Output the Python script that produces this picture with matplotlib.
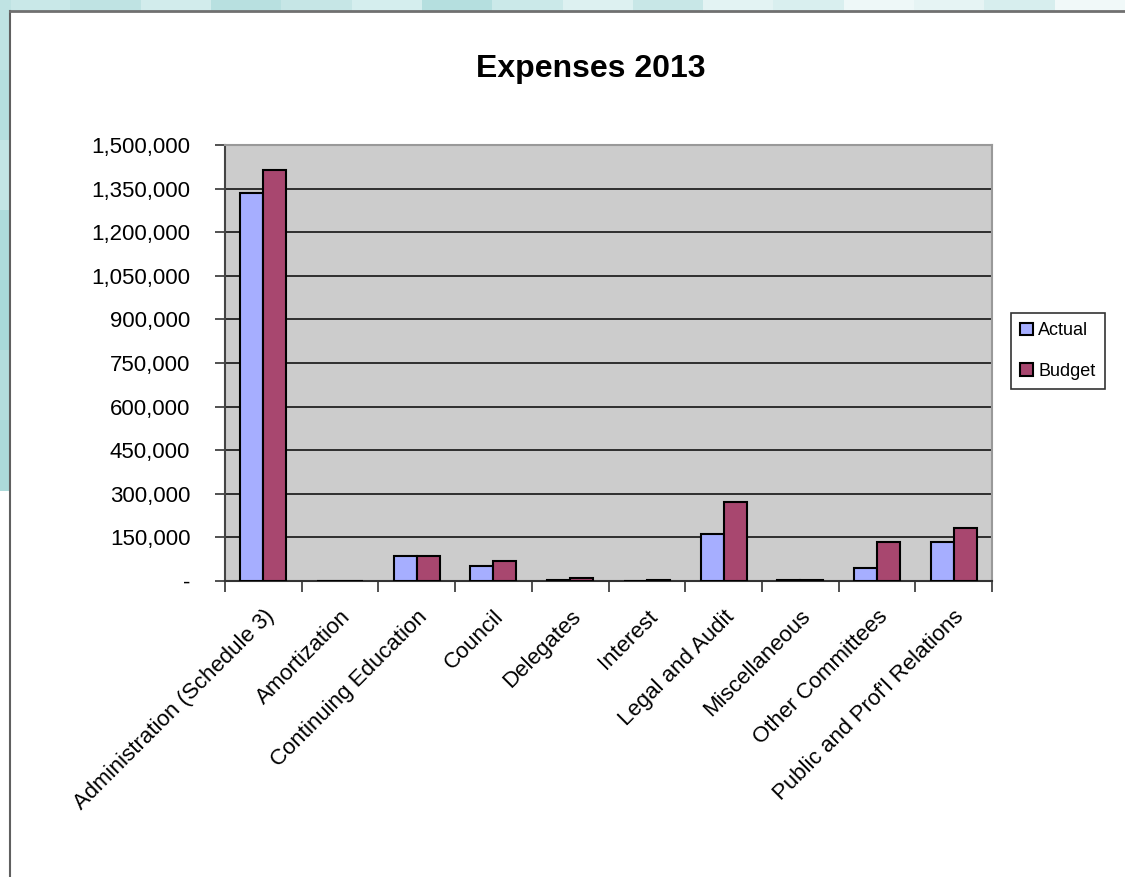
import matplotlib
matplotlib.use("Agg")
import matplotlib.pyplot as plt
from matplotlib.patches import Rectangle
from matplotlib.lines import Line2D
import numpy as np

categories = ["Administration (Schedule 3)", "Amortization", "Continuing Education",
              "Council", "Delegates", "Interest", "Legal and Audit",
              "Miscellaneous", "Other Committees", "Public and Prof'l Relations"]
actual = [1335000, 0, 85000, 52000, 2000, 0, 162000, 5000, 45000, 134000]
budget = [1414000, 0, 86000, 69000, 9000, 2500, 272000, 3000, 134000, 182000]
ytick_values = [0, 150000, 300000, 450000, 600000, 750000, 900000, 1050000, 1200000, 1350000, 1500000]
ytick_labels = ["-", "150,000", "300,000", "450,000", "600,000", "750,000", "900,000",
                "1,050,000", "1,200,000", "1,350,000", "1,500,000"]
series_names = ["Actual", "Budget"]
title = "Expenses 2013"

plt.rcParams['font.family'] = ['Liberation Sans', 'DejaVu Sans']

W, H = 1125, 877
fig = plt.figure(figsize=(W / 100, H / 100), dpi=100)
fig.patch.set_facecolor('white')

def px_rect(x0, y0, x1, y1, **kw):
    r = Rectangle((x0 / W, 1 - y1 / H), (x1 - x0) / W, (y1 - y0) / H,
                  transform=fig.transFigure, **kw)
    fig.patches.append(r)

# decorative teal background bands
top_cols = ["#C9E8E8", "#BFE3E3", "#D2ECEC", "#B8E0E0", "#C6E6E6", "#D5EEEE", "#B5DFDF",
            "#CBE9E9", "#DDF1F1", "#C8E7E7", "#E3F3F3", "#D9EFEF", "#EEF8F8", "#E6F4F4",
            "#D7EEEE", "#F1F9F9"]
n = len(top_cols)
for i, c in enumerate(top_cols):
    px_rect(i * W / n, 0, (i + 1) * W / n + 1, 12, facecolor=c, edgecolor='none', zorder=0)
left_cols = ["#BFE3E3", "#B5DFDF", "#C3E5E5", "#AEDBDB", "#A9D9D9", "#B3DDDD", "#ACDADA"]
m = len(left_cols)
for i, c in enumerate(left_cols):
    px_rect(0, i * 490 / m, 11, (i + 1) * 490 / m + 1, facecolor=c, edgecolor='none', zorder=0)
fig.add_artist(Line2D([10 / W, 10 / W], [1 - 11 / H, 0], transform=fig.transFigure,
                      color='#606060', lw=1.5))
fig.add_artist(Line2D([10 / W, 1], [1 - 11 / H, 1 - 11 / H], transform=fig.transFigure,
                      color='#707070', lw=2))

ax = fig.add_axes([225 / W, 1 - 581 / H, (992 - 225) / W, (581 - 145) / H])
ax.set_facecolor('#CCCCCC')

x = np.arange(len(categories)) + 0.5
bw = 0.3
ax.bar(x - bw / 2, actual, width=bw, color='#A6AEFF', edgecolor='black', linewidth=1.5,
       label=series_names[0], zorder=3)
ax.bar(x + bw / 2, budget, width=bw, color='#A8476F', edgecolor='black', linewidth=1.5,
       label=series_names[1], zorder=3)

ax.set_xlim(0, len(categories))
ax.set_ylim(0, 1500000)
ax.set_yticks(ytick_values)
ax.set_yticklabels(ytick_labels, fontsize=16)
ax.yaxis.grid(True, color='#222222', linewidth=1.3, zorder=1)
ax.set_axisbelow(True)

ax.set_xticks(np.arange(len(categories) + 1))
ax.set_xticklabels([])
ax.set_xticks(x, minor=True)
ax.set_xticklabels(categories, minor=True, rotation=45, ha='right', va='top',
                   rotation_mode='anchor', fontsize=16)
ax.tick_params(axis='x', which='minor', length=0, pad=18)
ax.tick_params(axis='x', which='major', length=8, width=1.2, color='#333333', direction='out')
ax.tick_params(axis='y', length=7, width=1.2, color='#333333', direction='out', pad=18)

for s in ['top', 'right']:
    ax.spines[s].set_color('#999999')
    ax.spines[s].set_linewidth(1.5)
ax.spines['left'].set_color('#444444')
ax.spines['left'].set_linewidth(1.5)
ax.spines['bottom'].set_color('#333333')
ax.spines['bottom'].set_linewidth(1.5)

fig.text(591 / W, 1 - 69 / H, title, ha='center', va='center', fontsize=23, fontweight='bold')

leg = fig.legend(loc='center', bbox_to_anchor=(1058 / W, 1 - 351 / H), fontsize=13,
                 frameon=True, fancybox=False, edgecolor='black', handlelength=0.7,
                 handleheight=0.7, handletextpad=0.3, labelspacing=1.3, borderpad=0.5)
leg.get_frame().set_linewidth(1.2)

fig.savefig("out.png", dpi=100)
